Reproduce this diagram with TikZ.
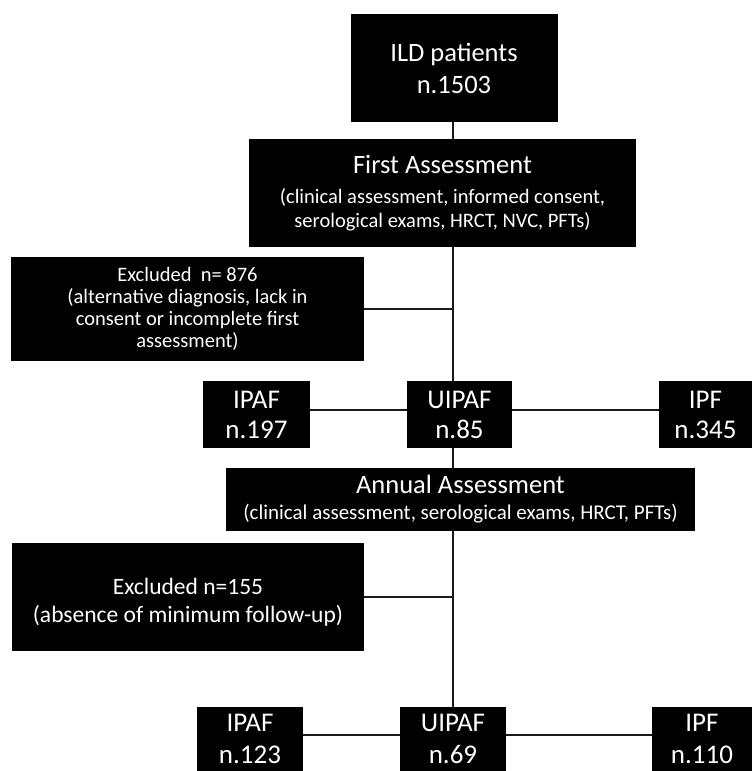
\documentclass[tikz,border=0pt]{standalone}
\usepackage{fontspec}
\setmainfont{Carlito}
\begin{document}
\begin{tikzpicture}[x=1pt,y=-1pt,
  box/.style={fill=black, text=white, inner sep=0pt, align=center},
  conn/.style={line width=1.7pt, draw=black!90}]
\useasboundingbox (0,0) rectangle (752,771);
\fill[white] (0,0) rectangle (752,771);
\coordinate (spine) at (453,0);
\coordinate (row1) at (0,410);
\coordinate (row2) at (0,735);
% nodes
\node[box, minimum width=207pt, minimum height=108pt, font=\fontsize{26.5}{32}\selectfont] (ild) at (454,68) {ILD patients\\n.1503};
\node[box, minimum width=387pt, minimum height=108pt, font=\fontsize{20.5}{24}\selectfont] (fa) at (442.5,193)
  {{\fontsize{26.5}{30}\selectfont First Assessment}\\[6pt](clinical assessment, informed consent,\\serological exams, HRCT, NVC, PFTs)};
\node[box, minimum width=353pt, minimum height=104pt, font=\fontsize{20.5}{22}\selectfont] (exa) at (187.5,309)
  {Excluded\ \ n= 876\\(alternative diagnosis, lack in\\consent or incomplete first\\assessment)};
\node[box, minimum width=107pt, minimum height=67pt, font=\fontsize{27}{30}\selectfont] (ipafa) at (256.5,414.5) {IPAF\\n.197};
\node[box, minimum width=105pt, minimum height=67pt, font=\fontsize{27}{30}\selectfont] (uipafa) at (459.5,414.5) {UIPAF\\n.85};
\node[box, minimum width=93pt, minimum height=67pt, font=\fontsize{27}{30}\selectfont] (ipfa) at (705.5,414.5) {IPF\\n.345};
\node[box, minimum width=469pt, minimum height=63pt, font=\fontsize{21}{26}\selectfont] (ann) at (460.5,499.5)
  {{\fontsize{26.5}{28}\selectfont Annual Assessment}\\(clinical assessment, serological exams, HRCT, PFTs)};
\node[box, minimum width=352pt, minimum height=108pt, font=\fontsize{23.5}{28}\selectfont] (exb) at (188,597)
  {\rule{0pt}{26pt}Excluded n=155\\(absence of minimum follow-up)};
\node[box, minimum width=106pt, minimum height=64pt, font=\fontsize{27}{32}\selectfont, anchor=north] (ipafb) at (250,707) {IPAF\\n.123};
\node[box, minimum width=106pt, minimum height=64pt, font=\fontsize{27}{32}\selectfont, anchor=north] (uipafb) at (453,707) {UIPAF\\n.69};
\node[box, minimum width=100pt, minimum height=64pt, font=\fontsize{27}{32}\selectfont, anchor=north] (ipfb) at (702,707) {IPF\\n.110};
% connectors
\draw[conn] (ild.south -| spine) -- (fa.north -| spine);
\draw[conn] (fa.south -| spine) -- (uipafa.north -| spine);
\draw[conn] (exa.east) -- (exa.east -| spine);
\draw[conn] (ipafa.east |- row1) -- (uipafa.west |- row1);
\draw[conn] (uipafa.east |- row1) -- (ipfa.west |- row1);
\draw[conn] (uipafa.south -| spine) -- (ann.north -| spine);
\draw[conn] (ann.south -| spine) -- (uipafb.north -| spine);
\draw[conn] (exb.east) -- (exb.east -| spine);
\draw[conn] (ipafb.east |- row2) -- (uipafb.west |- row2);
\draw[conn] (uipafb.east |- row2) -- (ipfb.west |- row2);
\end{tikzpicture}
\end{document}
